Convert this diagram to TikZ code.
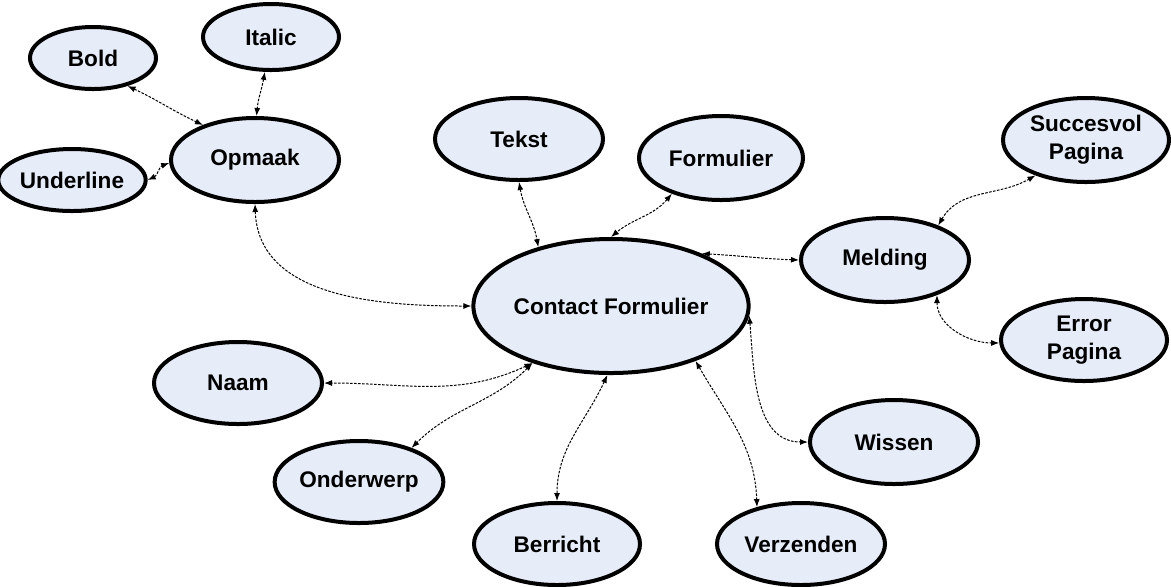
\documentclass[tikz,border=0pt]{standalone}
\usepackage{fontspec}
\setmainfont{Liberation Sans}
\usetikzlibrary{shapes.geometric,arrows.meta}
\definecolor{nodefill}{RGB}{230,236,248}
\begin{document}
\begin{tikzpicture}[x=0.5pt,y=-0.5pt,
  bub/.style={ellipse,draw=black,line width=2pt,fill=nodefill,inner sep=0pt,
    minimum width=168pt*0.5*2*0.5*2, minimum height=83pt*0.5,
    font=\fontsize{11.3}{14}\selectfont\bfseries,align=center},
  link/.style={line width=0.5pt,dash pattern=on 1.3pt off 0.7pt,
    {Latex[length=4pt,width=3pt]}-{Latex[length=4pt,width=3pt]}}]
\useasboundingbox (0,0) rectangle (1171,586);
% nodes
\node[bub,minimum width=63pt,minimum height=31pt] (bold) at (93,58) {Bold};
\node[bub,minimum width=68pt,minimum height=33pt] (ita) at (271,37) {Italic};
\node[bub,minimum width=84pt,minimum height=42pt] (opm) at (255,160) {Opmaak};
\node[bub,minimum width=64pt,minimum height=31pt] (und) at (72,180) {Underline};
\node[bub,minimum width=84pt,minimum height=41pt] (tek) at (519,139) {Tekst};
\node[bub,minimum width=82pt,minimum height=42pt] (frm) at (721,158) {Formulier};
\node[bub,minimum width=137pt,minimum height=67pt] (cf) at (611,306) {Contact Formulier};
\node[bub,minimum width=84pt,minimum height=42pt] (mel) at (885,260) {Melding};
\node[bub,minimum width=83pt,minimum height=42pt] (suc) at (1086,140) {Succesvol\\Pagina};
\node[bub,minimum width=83pt,minimum height=41pt] (err) at (1084,340) {Error\\Pagina};
\node[bub,minimum width=84pt,minimum height=41pt] (naa) at (238,383) {Naam};
\node[bub,minimum width=84pt,minimum height=41pt] (ond) at (359,482) {Onderwerp};
\node[bub,minimum width=83pt,minimum height=41pt] (ber) at (557,544) {Berricht};
\node[bub,minimum width=84pt,minimum height=41pt] (ver) at (801,544) {Verzenden};
\node[bub,minimum width=84pt,minimum height=42pt] (wis) at (894,442) {Wissen};
% connectors
\draw[link] (bold.-39) to[out=-25,in=155] (opm.146);
\draw[link] (ita.-100) to[out=-100,in=85] (opm.88);
\draw[link] (und.0) to[out=25,in=200] (opm.182);
\draw[link] (opm.-90) to[out=-88,in=180] (cf.180);
\draw[link] (tek.-90) to[out=-80,in=100] (cf.141);
\draw[link] (frm.-144) to[out=-130,in=40] (cf.90);
\draw[link] (cf.30) to[out=-3,in=178] (mel.180);
\draw[link] (mel.33) to[out=60,in=-150] (suc.-145);
\draw[link] (mel.-34) to[out=-90,in=180] (err.182);
\draw[link] (cf.-4) to[out=-85,in=180] (wis.180);
\draw[link] (cf.-33) to[out=-60,in=92] (ver.140);
\draw[link] (cf.-93) to[out=-115,in=90] (ber.90);
\draw[link] (cf.-144) to[out=-155,in=0] (naa.0);
\draw[link] (cf.-144) to[out=-135,in=45] (ond.33);
\end{tikzpicture}
\end{document}
